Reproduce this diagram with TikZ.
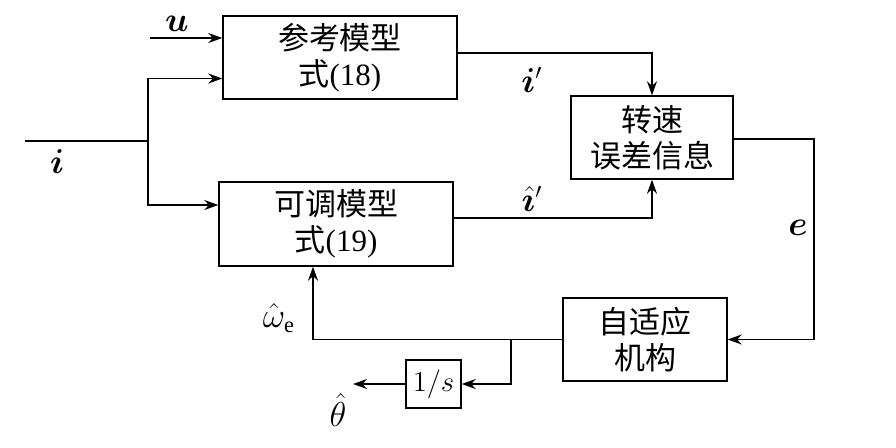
\documentclass[tikz,border=0pt]{standalone}
\usepackage{fontspec}
\usepackage{amsmath,bm}
\setmainfont{Liberation Serif}
\newfontfamily\cjk{Noto Sans CJK SC}
\usetikzlibrary{arrows.meta}
\tikzset{
  blk/.style={draw, line width=0.7pt, align=center, inner sep=0pt, font=\fontsize{15.5}{18}\selectfont},
  conn/.style={line width=0.7pt},
  arr/.style={conn, -{Stealth[length=7pt,width=5pt]}},
  lbl/.style={font=\fontsize{16}{18}\selectfont}
}
\begin{document}
\begin{tikzpicture}[x=0.5pt,y=-0.5pt]
    \useasboundingbox (0,0) rectangle (896,447);
    % blocks
    \node[blk, minimum width=117pt, minimum height=41.5pt] (ref) at (340,57.5) {{\cjk 参考模型}\\{\cjk 式}(18)};
    \node[blk, minimum width=81pt, minimum height=41.5pt] (speed) at (652,137.5) {{\cjk 转速}\\{\cjk 误差信息}};
    \node[blk, minimum width=117pt, minimum height=42pt] (adj) at (336,224) {{\cjk 可调模型}\\{\cjk 式}(19)};
    \node[blk, minimum width=82pt, minimum height=41.5pt] (adapt) at (645,339.5) {{\cjk 自适应}\\{\cjk 机构}};
    \node[blk, minimum width=27.5pt, minimum height=24pt] (integ) at (433.5,384) {$1/s$};
    % points
    \coordinate (uin) at (150,38);
    \coordinate (iin) at (25,141);
    \coordinate (isplit) at (148,141);
    \coordinate (ecorner) at (814,339.5);
    \coordinate (wcorner) at (313,339.5);
    \coordinate (wsplit) at (511,339.5);
    \coordinate (thout) at (353,384);
    % connectors
    \draw[arr] (uin) -- (uin -| ref.west);
    \draw[conn] (iin) -- (isplit);
    \draw[arr] (isplit) |- ([yshift=-10.5pt]ref.west);
    \draw[arr] (isplit) |- ([yshift=9.5pt]adj.west);
    \draw[arr] ([yshift=2.25pt]ref.east) -| (speed.north);
    \draw[arr] ([yshift=3pt]adj.east) -| (speed.south);
    \draw[conn] ([yshift=-0.75pt]speed.east) -| (ecorner);
    \draw[arr] (ecorner) -- (adapt.east);
    \draw[arr] (adapt.west) -- (wcorner) -- (wcorner |- adj.south);
    \draw[arr] (wsplit) |- (integ.east);
    \draw[arr] (integ.west) -- (thout);
    % labels
    \node[lbl] (ulbl) at (177,24) {$\bm{u}$};
    \node[lbl] (ilbl) at (57,162) {$\bm{i}$};
    \node[lbl] (iref) at (532,80) {$\bm{i}'$};
    \node[lbl] (ihat) at (532,199) {$\hat{\bm{\imath}}'$};
    \node[lbl] (elbl) at (798,228) {$\bm{e}$};
    \node[lbl] (wlbl) at (279,318) {$\hat{\omega}_{\mathrm{e}}$};
    \node[lbl] (thlbl) at (338,410) {$\hat{\theta}$};
\end{tikzpicture}
\end{document}
